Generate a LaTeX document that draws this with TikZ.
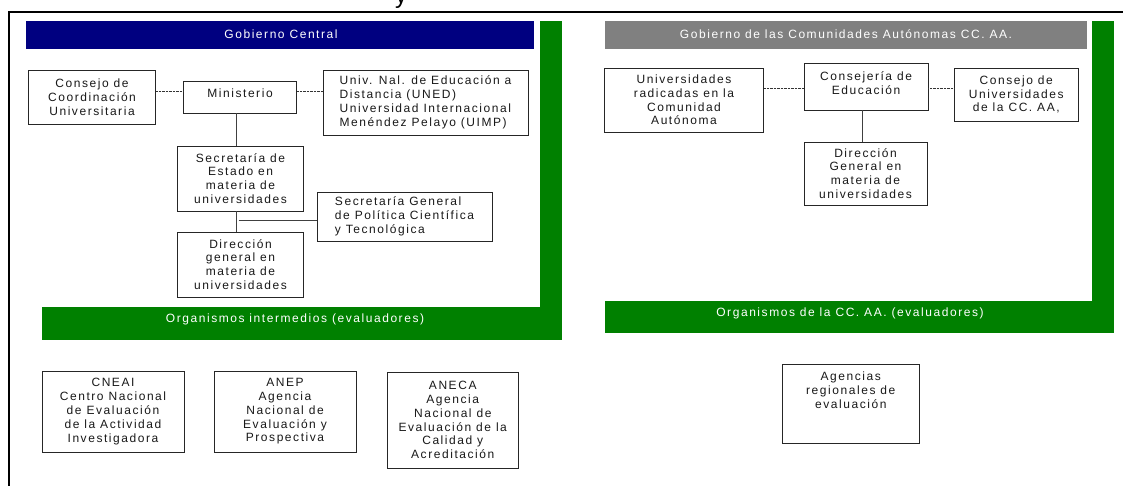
\documentclass[tikz,border=0pt]{standalone}
\usepackage{fontspec}
\setmainfont{Liberation Sans}
\newfontfamily\trk[LetterSpace=13]{Liberation Sans}
\definecolor{navyb}{RGB}{0,0,128}
\definecolor{greenb}{RGB}{0,128,0}
\definecolor{greyb}{RGB}{128,128,128}
\begin{document}
\begin{tikzpicture}[x=1pt,y=-1pt,
  base/.style={font=\trk\fontsize{12}{13.8}\selectfont, text=black!90},
  box/.style={base, draw=black!85, line width=0.8pt, fill=white, inner sep=0pt, align=center},
  lbox/.style={box, align=left},
  txt/.style={base, inner sep=0pt, align=center},
  dline/.style={draw=black!80, line width=1pt, dash pattern=on 0.8pt off 0.6pt},
  sline/.style={draw=black!75, line width=0.9pt},
  bartxt/.style={font=\trk\fontsize{12}{13.8}\selectfont, text=white, inner sep=0pt}
]
\useasboundingbox (0,0) rectangle (1123,486);
\fill[white] (0,0) rectangle (1123,486);
% cut title letter
\node[font=\fontsize{24}{24}\selectfont, anchor=base, inner sep=0pt, text=black] (ty) at (401,4) {y};
% frame
\draw[line width=2pt] (1123,12) -- (8.5,12) -- (8.5,486);
% bars
\fill[navyb] (26,21) rectangle (534,49);
\fill[greenb] (540,21) rectangle (562,340);
\fill[greenb] (42,307) rectangle (562,340);
\fill[greyb] (605,21) rectangle (1087,49);
\fill[greenb] (1092,21) rectangle (1114,333);
\fill[greenb] (605,301) rectangle (1114,333);
\node[bartxt] (h1) at (281,34) {Gobierno Central};
\node[bartxt] (h2) at (846,34) {Gobierno de las Comunidades Autónomas CC. AA.};
\node[bartxt] (h3) at (295,319) {Organismos intermedios (evaluadores)};
\node[bartxt] (h4) at (850,313) {Organismos de la CC. AA. (evaluadores)};
% left panel
\node[box, minimum width=127pt, minimum height=54pt] (cons) at (92,97) {Consejo de\\Coordinación\\Universitaria};
\node[box, minimum width=113pt, minimum height=32pt] (min) at (240,97) {};
\node[txt] (mint) at (240,93) {Ministerio};
\node[lbox, minimum width=205pt, minimum height=65pt] (uned) at (425.5,102.5) {Univ. Nal. de Educación a\\Distancia (UNED)\\Universidad Internacional\\Menéndez Pelayo (UIMP)};
\node[box, minimum width=126pt, minimum height=65pt] (sec) at (240.5,178.5) {Secretaría de\\Estado en\\materia de\\universidades};
\node[lbox, minimum width=175pt, minimum height=49pt] (sg) at (404.5,216.5) {Secretaría General\\de Política Científica\\y Tecnológica};
\node[box, minimum width=126pt, minimum height=65pt] (dir) at (240.5,264.5) {Dirección\\general en\\materia de\\universidades};
\coordinate (d1) at (0,92);
\draw[dline] (cons.east |- d1) -- (min.west |- d1);
\draw[dline] (min.east |- d1) -- (uned.west |- d1);
\draw[sline] ([xshift=-4pt]min.south) -- ([xshift=-4pt]min.south |- sec.north);
\draw[sline] ([xshift=-4.5pt]sec.south) -- ([xshift=-4.5pt]sec.south |- dir.north);
\coordinate (jn) at (238.5,220);
\draw[sline] (jn) -- (jn -| sg.west);
% right panel
\node[box, minimum width=159pt, minimum height=64pt] (urad) at (684,100) {Universidades\\radicadas en la\\Comunidad\\Autónoma};
\node[box, minimum width=124pt, minimum height=47pt] (cj) at (866,86.5) {};
\node[txt] (cjt) at (866,83) {Consejería de\\Educación};
\node[box, minimum width=123.4pt, minimum height=53pt] (ccaa) at (1016.3,94.5) {Consejo de\\Universidades\\de la CC. AA,};
\node[box, minimum width=123pt, minimum height=63pt] (dg) at (865.5,173.5) {Dirección\\General en\\materia de\\universidades};
\coordinate (d2) at (0,89);
\draw[dline] (urad.east |- d2) -- (cj.west |- d2);
\draw[dline] (cj.east |- d2) -- (ccaa.west |- d2);
\draw[sline] ([xshift=-4pt]cj.south) -- ([xshift=-4pt]cj.south |- dg.north);
% bottom agencies
\node[box, minimum width=142pt, minimum height=81pt] (cneai) at (113,411.5) {CNEAI\\Centro Nacional\\de Evaluación\\de la Actividad\\Investigadora};
\node[box, minimum width=142pt, minimum height=81pt] (anep) at (285,411.5) {ANEP\\Agencia\\Nacional de\\Evaluación y\\Prospectiva};
\node[box, minimum width=130.5pt, minimum height=96pt] (aneca) at (452.75,420) {ANECA\\Agencia\\Nacional de\\Evaluación de la\\Calidad y\\Acreditación};
\node[box, minimum width=136.5pt, minimum height=79pt] (agr) at (850.75,403.5) {};
\node[txt] (agrt) at (850.75,390.5) {Agencias\\regionales de\\evaluación};
\end{tikzpicture}
\end{document}
